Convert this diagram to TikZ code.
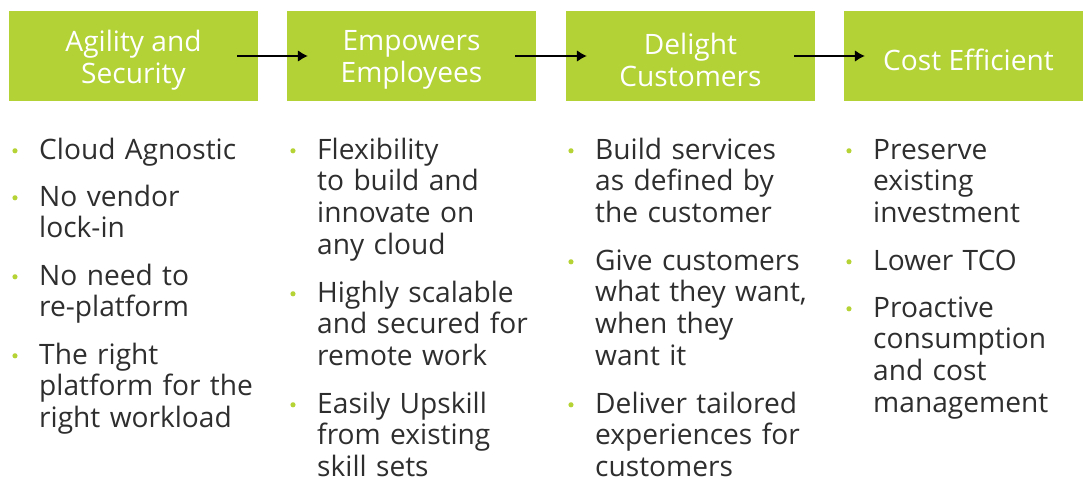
\documentclass[tikz,border=0pt]{standalone}
\usepackage{fontspec}
\setmainfont{Open Sans}
\usetikzlibrary{arrows.meta}

\definecolor{boxgreen}{HTML}{B2D235}
\definecolor{dotgreen}{HTML}{B5D334}
\definecolor{bodygray}{HTML}{2E2E2E}

\begin{document}
\begin{tikzpicture}[x=0.03cm, y=-0.03cm, >=Latex]

        % Styles for the picture.
        \tikzset{
            headbox/.style = {fill = boxgreen, inner sep = 0pt,
                minimum width = 7.47cm, minimum height = 2.7cm},
            headtext/.style = {text = white, align = center, inner sep = 0pt,
                yshift = -3.5pt, font = \fontsize{24}{27.3}\selectfont},
            bullettext/.style = {anchor = base west, inner sep = 0pt,
                text width = 7.3cm, align = left, text = bodygray,
                font = \fontsize{24}{27.2}\selectfont},
            flow/.style = {->, line width = 1.5pt,
                arrows = {-Latex[length = 8.5pt, width = 10pt]}}
        }

        % Page frame, in pixels of the reference.
        \clip (0, 0) rectangle (1083, 479);

        % The four green headings.
        \node[headbox, label = {[headtext]center:Agility and\\Security}] (agility) at (133.5, 56) {};
        \node[headbox, label = {[headtext]center:Empowers\\Employees}] (employees) at (411.5, 56) {};
        \node[headbox, label = {[headtext]center:Delight\\Customers}] (customers) at (690.5, 56) {};
        \node[headbox, label = {[headtext]center:Cost Efficient}] (cost) at (968.5, 56) {};

        % Arrows from one heading to the next.
        \draw[flow] ([xshift = -18pt]agility.east) to ([xshift = 18pt]employees.west);
        \draw[flow] ([xshift = -18pt]employees.east) to ([xshift = 18pt]customers.west);
        \draw[flow] ([xshift = -18pt]customers.east) to ([xshift = 18pt]cost.west);

        % First column.
        \node[bullettext] (agilityA) at (39, 159) {Cloud Agnostic};
        \node[bullettext] (agilityB) at (39, 206) {No vendor\\lock-in};
        \node[bullettext] (agilityC) at (39, 285) {No need to\\re-platform};
        \node[bullettext] (agilityD) at (39, 364) {The right\\platform for the\\right workload};

        % Second column.
        \node[bullettext] (employeesA) at (317, 159) {Flexibility\\to build and\\innovate on\\any cloud};
        \node[bullettext] (employeesB) at (317, 302) {Highly scalable\\and secured for\\remote work};
        \node[bullettext] (employeesC) at (317, 413) {Easily Upskill\\from existing\\skill sets};

        % Third column.
        \node[bullettext] (customersA) at (595, 159) {Build services\\as defined by\\the customer};
        \node[bullettext] (customersB) at (595, 270) {Give customers\\what they want,\\when they\\want it};
        \node[bullettext] (customersC) at (595, 413) {Deliver tailored\\experiences for\\customers};

        % Fourth column.
        \node[bullettext] (costA) at (873, 159) {Preserve\\existing\\investment};
        \node[bullettext] (costB) at (873, 270) {Lower TCO};
        \node[bullettext] (costC) at (873, 317) {Proactive\\consumption\\and cost\\management};

        % Green dots in front of every item.
        \foreach \item in {agilityA, agilityB, agilityC, agilityD,
                           employeesA, employeesB, employeesC,
                           customersA, customersB, customersC,
                           costA, costB, costC}
            \fill[dotgreen] ([xshift = -20.5pt, yshift = 7pt]\item.base west) circle (2.2pt);
    \end{tikzpicture}
\end{document}
